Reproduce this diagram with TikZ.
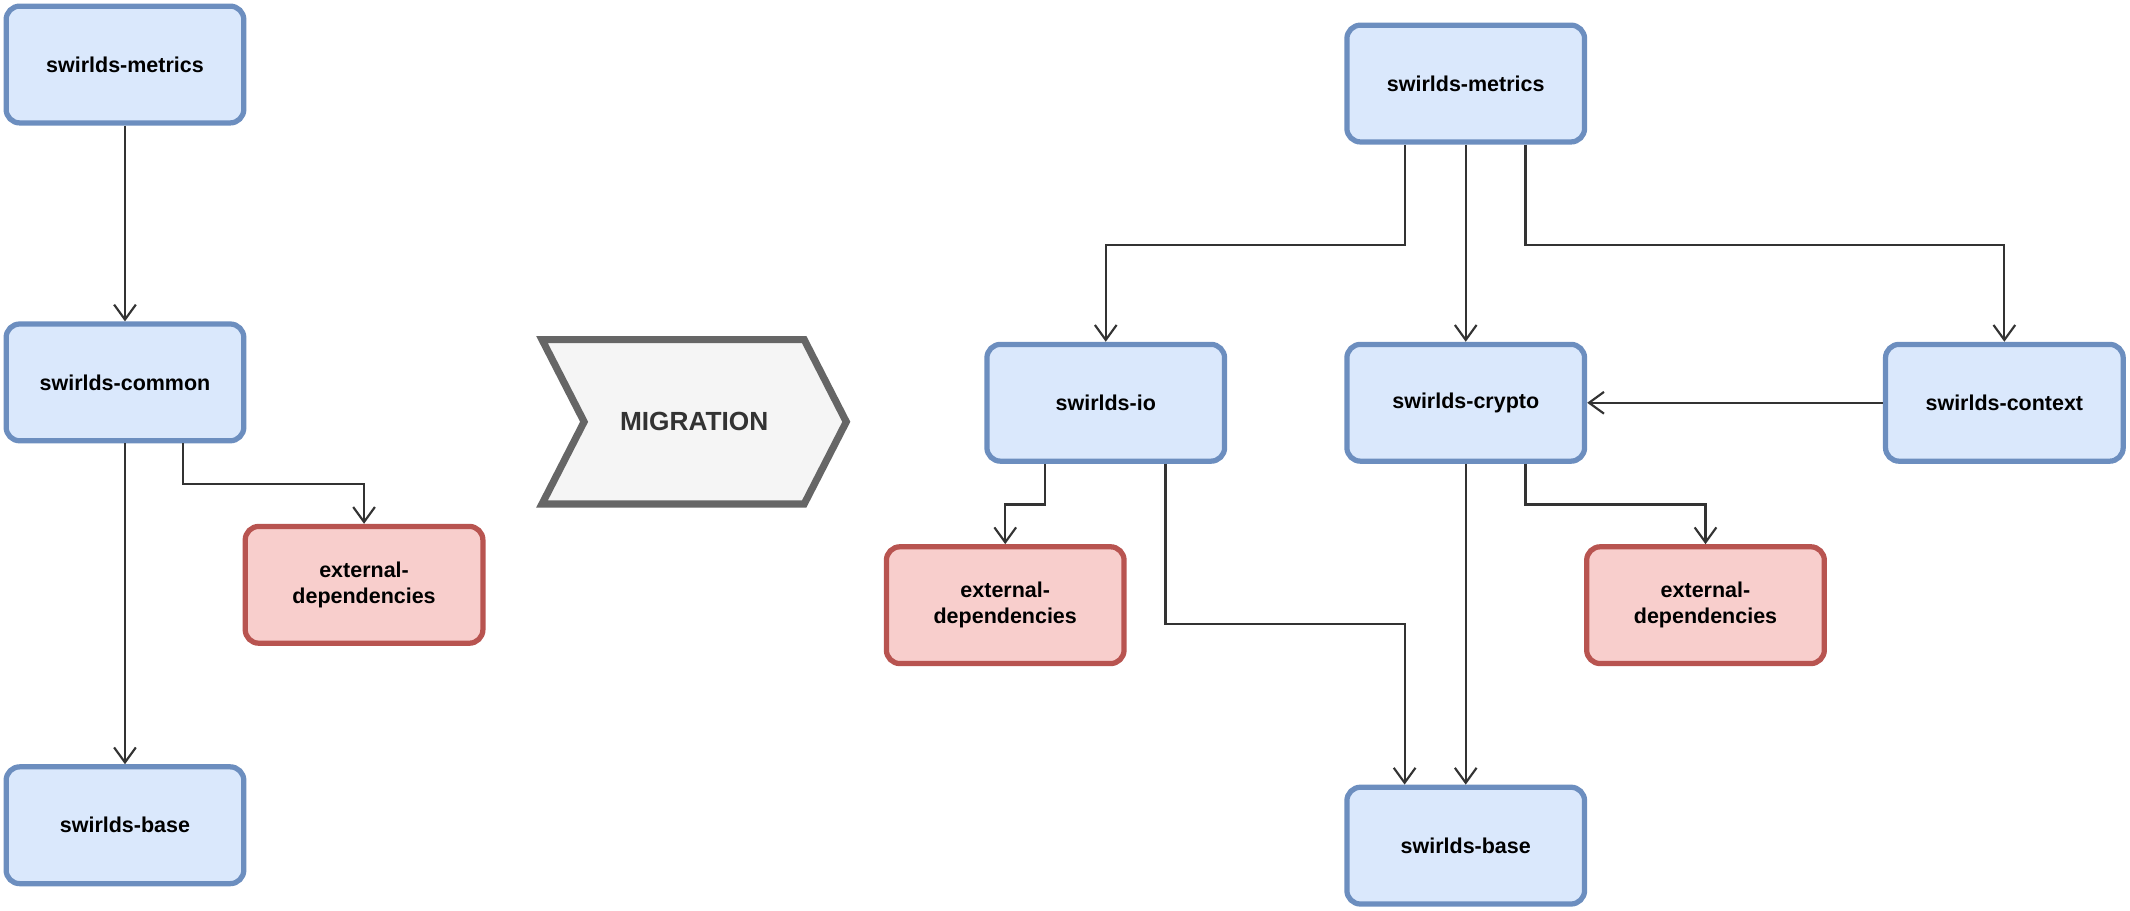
\documentclass[tikz,border=0pt]{standalone}
\usepackage{fontspec}
\setmainfont{Liberation Sans}
\usetikzlibrary{arrows.meta,calc}
\definecolor{bluefill}{HTML}{DAE8FC}
\definecolor{blueline}{HTML}{6C8EBF}
\definecolor{redfill}{HTML}{F8CECC}
\definecolor{redline}{HTML}{B85450}
\tikzset{
  module/.style={draw=blueline, fill=bluefill, line width=2.2pt, rounded corners=0.2cm,
    minimum width=3.5cm, minimum height=1.72cm, align=center,
    font=\fontsize{9}{11}\selectfont\bfseries},
  extdep/.style={module, draw=redline, fill=redfill},
  dep/.style={-{Straight Barb[length=2.2mm,width=3.2mm]}, line width=0.9pt, draw=black!80}
}
\begin{document}
\begin{tikzpicture}[x=0.02cm, y=-0.02cm]
    \useasboundingbox (0,0) rectangle (1568,670);
    % Before migration
    \node[module] (m1) at (92,47.5) {swirlds-metrics};
    \node[module] (c1) at (92,281.5) {swirlds-common};
    \node[extdep] (e1) at (268,430.5) {external-\\dependencies};
    \node[module] (b1) at (92,607.5) {swirlds-base};
    \draw[dep] (m1) -- (c1);
    \draw[dep] (c1) -- (b1);
    \draw[dep] ($(c1.south)+(43,0)$) -- ++(0,30) -| (e1.north);
    % Migration arrow
    \node[draw=black!60, fill=black!4, line width=3pt, shape=rectangle, draw=none, fill=none,
      font=\fontsize{11}{13}\selectfont\bfseries, text=black!80] (mig) at (511,310.5) {MIGRATION};
    \path[draw=black!60, fill=black!4, line width=3pt]
      (399,250) -- (592,250) -- (623,310.5) -- (592,371) -- (399,371) -- (430,310.5) -- cycle;
    \node[font=\fontsize{11}{13}\selectfont\bfseries, text=black!80] at (mig) {MIGRATION};
    % After migration
    \node[module] (m2) at (1079,61.5) {swirlds-metrics};
    \node[module] (io) at (814,296.5) {swirlds-io};
    \node[module] (cr) at (1079,296.5) {swirlds-crypto};
    \node[module] (cx) at (1475.5,296.5) {swirlds-context};
    \node[extdep] (e2) at (740,445.5) {external-\\dependencies};
    \node[extdep] (e3) at (1255.5,445.5) {external-\\dependencies};
    \node[module] (b2) at (1079,622.5) {swirlds-base};
    \draw[dep] ($(m2.south)+(-45,0)$) -- ++(0,74) -| (io.north);
    \draw[dep] (m2) -- (cr);
    \draw[dep] ($(m2.south)+(44,0)$) -- ++(0,74) -| (cx.north);
    \draw[dep] (cx) -- (cr);
    \draw[dep] ($(io.south)+(-45,0)$) -- ++(0,30) -| (e2.north);
    \draw[dep] ($(io.south)+(44,0)$) -- ++(0,118) -| ($(b2.north)+(-45,0)$);
    \draw[dep] (cr) -- (b2);
    \draw[dep] ($(cr.south)+(44,0)$) -- ++(0,30) -| (e3.north);
\end{tikzpicture}
\end{document}
